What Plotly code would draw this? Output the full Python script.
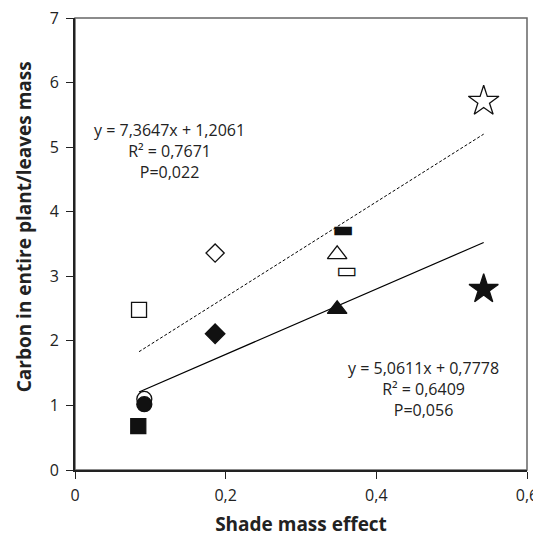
import plotly.graph_objects as go

# Data
sym_x = [0.084, 0.085, 0.092, 0.092, 0.186, 0.186, 0.348, 0.348, 0.5425, 0.5425]
sym_y = [0.68, 2.48, 1.10, 1.02, 2.11, 3.36, 2.49, 3.34, 2.80, 5.71]
symbols = ["square", "square-open", "circle-open", "circle", "diamond", "diamond-open",
           "triangle-up", "triangle-up-open", "star", "star-open"]
sizes = [15, 15, 15, 15, 15, 14, 17, 17, 22, 23]

rect_x = [0.356, 0.361]
rect_y = [3.70, 3.06]
rect_chars = ["\u25ac", "\u25ad"]

fit_x = [0.085, 0.5425]
dash_slope, dash_int = 7.3647, 1.2061
solid_slope, solid_int = 5.0611, 0.7778

x_ticks = [0, 0.2, 0.4, 0.6]
x_ticktext = ["0", "0,2", "0,4", "0,6"]
y_ticks = [0, 1, 2, 3, 4, 5, 6, 7]

fig = go.Figure()

fig.add_trace(go.Scatter(
    x=fit_x, y=[dash_slope * v + dash_int for v in fit_x], mode="lines",
    line=dict(color="black", width=1, dash="3px,2px"), showlegend=False, hoverinfo="skip"))
fig.add_trace(go.Scatter(
    x=fit_x, y=[solid_slope * v + solid_int for v in fit_x], mode="lines",
    line=dict(color="black", width=1.2), showlegend=False, hoverinfo="skip"))

fig.add_trace(go.Scatter(
    x=sym_x, y=sym_y, mode="markers",
    marker=dict(symbol=symbols, size=sizes, color="#111", opacity=1,
                line=dict(color="#111", width=1.3)),
    showlegend=False))

fig.add_trace(go.Scatter(
    x=rect_x, y=rect_y, mode="text", text=rect_chars,
    textfont=dict(family="DejaVu Sans", size=23, color="#111"),
    textposition="middle center", showlegend=False))

ann_font = dict(family="Open Sans", size=16, color="#222")
fig.add_annotation(x=0.126, y=4.94, xref="x", yref="y", showarrow=False, align="center",
                   text="y = 7,3647x + 1,2061<br>R² = 0,7671<br>P=0,022", font=ann_font)
fig.add_annotation(x=0.462, y=1.26, xref="x", yref="y", showarrow=False, align="center",
                   text="y = 5,0611x + 0,7778<br>R² = 0,6409<br>P=0,056", font=ann_font)
fig.add_annotation(x=-0.114, xref="paper", y=0.538, yref="paper", showarrow=False, textangle=-90,
                   xanchor="center", yanchor="middle",
                   text="<b>Carbon in entire plant/leaves mass</b>",
                   font=dict(family="Open Sans", size=19, color="#222"))

fig.add_shape(type="rect", xref="paper", yref="paper", x0=0, y0=0, x1=1, y1=1,
              line=dict(color="#666", width=1.5), layer="below")

fig.update_layout(
    width=534, height=529, autosize=False,
    margin=dict(l=67, r=15, t=10, b=67),
    paper_bgcolor="white", plot_bgcolor="white",
    font=dict(family="Open Sans", color="#222"),
    xaxis=dict(range=[0, 0.6], tickvals=x_ticks, ticktext=x_ticktext, showgrid=False, zeroline=False,
               showline=True, linecolor="#222", linewidth=2, ticks="outside", ticklen=7, tickcolor="#222",
               automargin=False, tickfont=dict(size=16), ticklabelstandoff=3, ticklabeloverflow="allow",
               title=dict(text="<b>Shade mass effect</b>", font=dict(size=19), standoff=13)),
    yaxis=dict(range=[0, 7], tickvals=y_ticks, showgrid=False, zeroline=False,
               showline=True, linecolor="#222", linewidth=2, ticks="outside", ticklen=7, tickcolor="#222",
               automargin=False, tickfont=dict(size=16), ticklabelstandoff=4, ticklabeloverflow="allow"),
)

fig.write_html("out.html")
